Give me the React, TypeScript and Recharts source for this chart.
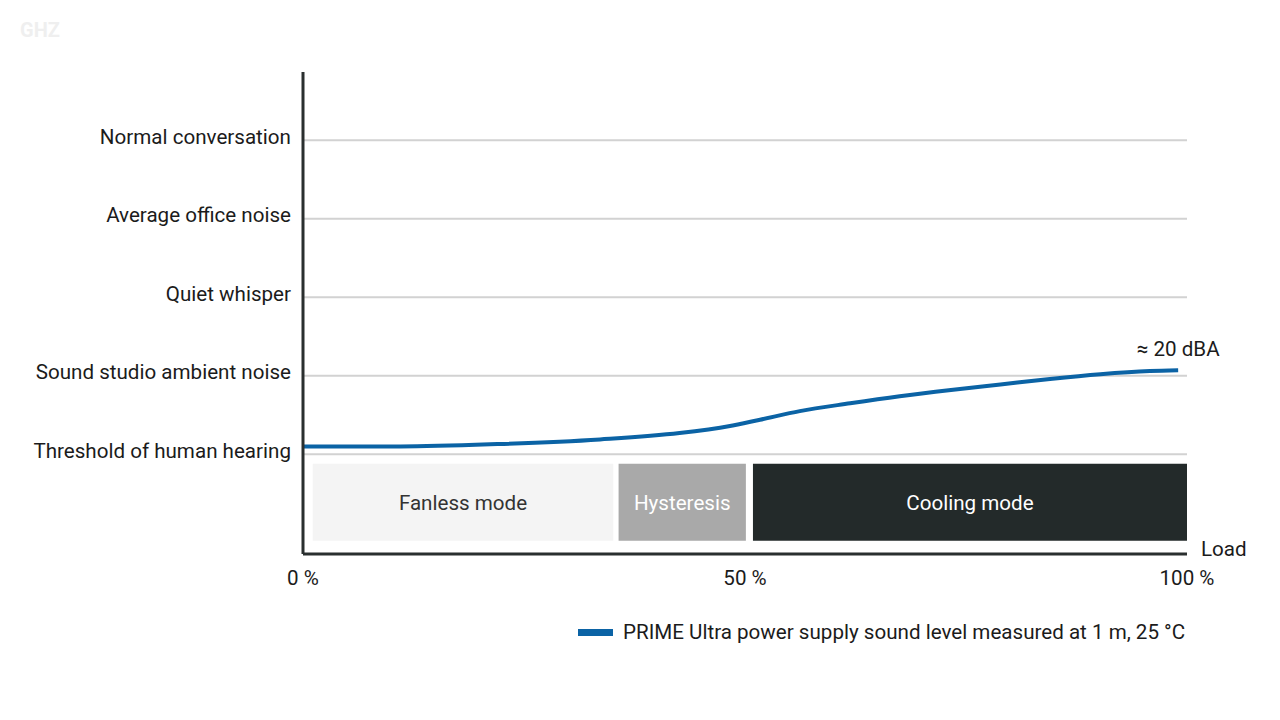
import React from 'react';
import {
  ComposedChart,
  Line,
  XAxis,
  YAxis,
  ReferenceArea,
  ReferenceLine,
  ReferenceDot,
  Legend,
} from 'recharts';

// noise reference levels, bottom to top
const levelNames = [
  'Threshold of human hearing',
  'Sound studio ambient noise',
  'Quiet whisper',
  'Average office noise',
  'Normal conversation',
];
const levelTicks = [0, 1, 2, 3, 4];

// measured curve: load (%) vs. level position
const loadPct = [0, 11, 22, 33.6, 42.6, 48.3, 51.7, 56.2, 61.9, 67.5, 73.3, 78.9, 84.5, 90.2, 95.8, 99];
const soundLevel = [0.1, 0.1, 0.13, 0.19, 0.27, 0.36, 0.44, 0.55, 0.65, 0.74, 0.82, 0.89, 0.96, 1.02, 1.06, 1.07];

const loadTicks = [0, 50, 100];

// operating modes along the load axis
const modeNames = ['Fanless mode', 'Hysteresis', 'Cooling mode'];
const modeStart = [1.1, 35.7, 50.9];
const modeEnd = [35.1, 50.1, 100];
const modeFill = ['#f4f4f4', '#a9a9a9', '#232a2a'];
const modeText = ['#333333', '#ffffff', '#ffffff'];

const seriesName = 'PRIME Ultra power supply sound level measured at 1 m, 25 °C';
const endNote = '≈ 20 dBA';

const data = loadPct.map((x, i) => ({ load: x, level: soundLevel[i] }));

const FONT = 'Roboto, "Open Sans", sans-serif';
const BLUE = '#0b63a5';
const AXIS = '#2a2f2f';
const TEXT = '#1b1b1b';
const FS = 20.6;

const LegendContent = () => (
  <div style={{ display: 'flex', alignItems: 'center', fontFamily: FONT, fontSize: FS, color: TEXT, whiteSpace: 'nowrap' }}>
    <span style={{ display: 'inline-block', width: 35, height: 7, background: BLUE, marginRight: 10 }} />
    {seriesName}
  </div>
);

const App = () => {
  return (
    <div style={{ position: 'absolute', top: 0, left: 0, width: 1280, height: 720, background: '#fff' }}>
      <div style={{ position: 'absolute', top: 18, left: 20, fontFamily: FONT, fontSize: 20, fontWeight: 700, color: '#efefef' }}>GHZ</div>
      <ComposedChart
        width={1280}
        height={720}
        data={data}
        margin={{ top: 72, right: 93, bottom: 126, left: 0 }}
        style={{ fontFamily: FONT }}
      >
        {levelTicks.map((t) => (
          <ReferenceLine key={t} y={t} stroke="#d2d2d2" strokeWidth={2} />
        ))}
        <XAxis
          dataKey="load"
          type="number"
          domain={[0, 100]}
          ticks={loadTicks}
          tickFormatter={(v) => `${v} %`}
          height={40}
          tickLine={false}
          tickSize={16}
          tickMargin={0}
          axisLine={{ stroke: AXIS, strokeWidth: 3 }}
          tick={{ fill: TEXT, fontSize: FS }}
          label={({ viewBox }: any) => (
            <text x={viewBox.x + viewBox.width + 14} y={viewBox.y + 2} fill={TEXT} fontSize={FS} fontFamily={FONT}>
              Load
            </text>
          )}
        />
        <YAxis
          type="number"
          domain={[-1.27, 4.87]}
          ticks={levelTicks}
          tickFormatter={(v) => levelNames[v]}
          width={303}
          tickLine={false}
          tickSize={12}
          tickMargin={0}
          axisLine={{ stroke: AXIS, strokeWidth: 3 }}
          tick={{ fill: TEXT, fontSize: FS, dy: -4 }}
        />
        {modeNames.map((name, i) => (
          <ReferenceArea
            key={name}
            x1={modeStart[i]}
            x2={modeEnd[i]}
            y1={-1.1}
            y2={-0.12}
            fill={modeFill[i]}
            fillOpacity={1}
            stroke="none"
            label={{ value: name, position: 'center', fill: modeText[i], fontSize: FS }}
          />
        ))}
        <Line
          type="monotone"
          dataKey="level"
          name={seriesName}
          stroke={BLUE}
          strokeWidth={4}
          dot={false}
          isAnimationActive={false}
        />
        <ReferenceDot
          x={loadPct[loadPct.length - 1]}
          y={soundLevel[soundLevel.length - 1]}
          r={0}
          stroke="none"
          label={{ value: endNote, position: 'top', offset: 14, fill: TEXT, fontSize: FS }}
        />
        <Legend
          layout="horizontal"
          verticalAlign="middle"
          align="center"
          content={<LegendContent />}
          wrapperStyle={{ top: 620, left: 578, width: 660 }}
        />
      </ComposedChart>
    </div>
  );
};

export default App;
